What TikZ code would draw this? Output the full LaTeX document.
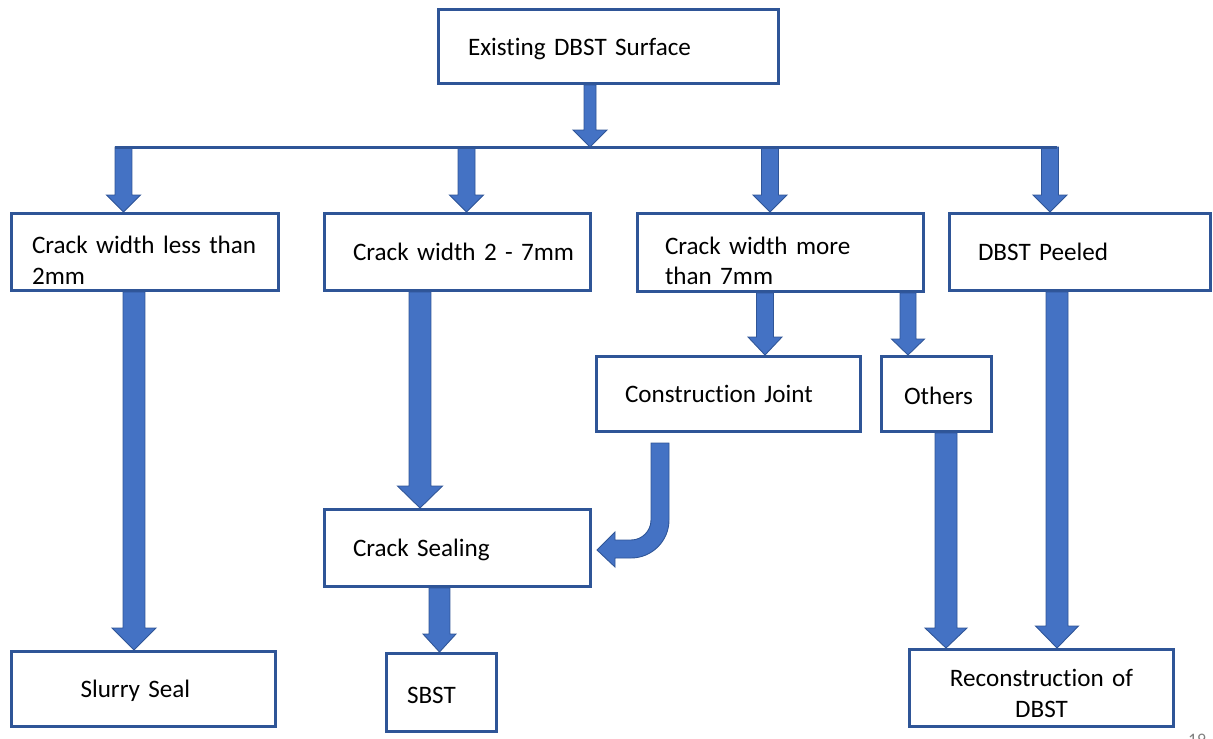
\documentclass[tikz,border=0pt]{standalone}
\usepackage{fontspec}
\setmainfont{Carlito}[Ligatures=NoCommon]
\usetikzlibrary{calc}

\definecolor{boxline}{HTML}{2F5597}
\definecolor{arrowblue}{HTML}{4472C4}

\tikzset{
  box/.style={draw=boxline, line width=1.7pt, fill=white, inner sep=0pt,
    align=left, font=\fontsize{14.3}{17.5}\selectfont,
    text height=0.34cm, text depth=0pt},
  twoline/.style={text height=0.06cm},
  arrowfill/.style={fill=arrowblue, draw=boxline, line width=0.5pt},
}

% block arrow: #1 shaft, #2 head width, #3 head length (px), #4 x (px), #5 from, #6 to
\newcommand\blockarrow[6]{%
  \filldraw[arrowfill] let \p3=(#4,0), \p1=(#5), \p2=(#6) in
    (\x3-#1*0.01cm,\y1) -- (\x3-#1*0.01cm,\y2+#3*0.02cm)
    -- (\x3-#2*0.01cm,\y2+#3*0.02cm) -- (\x3,\y2)
    -- (\x3+#2*0.01cm,\y2+#3*0.02cm) -- (\x3+#1*0.01cm,\y2+#3*0.02cm)
    -- (\x3+#1*0.01cm,\y1) -- cycle;}

\begin{document}
\begin{tikzpicture}[x=0.02cm, y=-0.02cm]
    \useasboundingbox (0,0) rectangle (1213,738);
    \clip (0,0) rectangle (1213,738);

    % boxes
    \node[box, minimum width=6.80cm, minimum height=1.48cm, text width=5.62cm] (top) at (608.5,46.5) {Existing DBST Surface};
    \node[box, twoline, minimum width=5.34cm, minimum height=1.54cm, text width=4.52cm] (less2) at (145,252) {\mbox{Crack width less than}\\2mm};
    \node[box, minimum width=5.32cm, minimum height=1.54cm, text width=4.18cm] (w27) at (457.5,252) {\mbox{Crack width 2 - 7mm}};
    \node[box, twoline, minimum width=5.72cm, minimum height=1.56cm, text width=4.62cm] (more7) at (780.5,252.5) {Crack width more\\than 7mm};
    \node[box, minimum width=5.22cm, minimum height=1.54cm, text width=4.08cm] (peeled) at (1080,252) {DBST Peeled};
    \node[box, minimum width=5.28cm, minimum height=1.50cm, text width=4.14cm] (cj) at (728.5,394) {Construction Joint};
    \node[box, minimum width=2.20cm, minimum height=1.50cm, text width=1.30cm, text height=0.42cm] (others) at (936.5,394) {Others};
    \node[box, minimum width=5.32cm, minimum height=1.54cm, text width=4.18cm] (sealing) at (457.5,548) {Crack Sealing};
    \node[box, minimum width=5.28cm, minimum height=1.50cm, text width=2.52cm] (slurry) at (143.5,689) {Slurry Seal};
    \node[box, minimum width=2.20cm, minimum height=1.56cm, text width=1.38cm, text height=0.44cm] (sbst) at (441.5,692.5) {SBST};
    \node[box, minimum width=5.28cm, minimum height=1.54cm, text width=4.50cm, align=center,
          text height=0pt, text depth=0.06cm] (recon) at (1041.5,688) {Reconstruction of\\DBST};

    % branch bar
    \coordinate (barL) at (115,147);
    \coordinate (barR) at (1057,147);
    \blockarrow{12}{34}{17}{590}{top.south}{barL}
    \foreach \bx/\target in {123.5/less2, 466.5/w27, 770/more7, 1050/peeled}
        \blockarrow{17}{34}{17}{\bx}{barL}{\target.north};
    \draw[boxline, line width=1.7pt] (barL) -- (barR);

    % arrows between boxes
    \blockarrow{22}{44}{22}{134}{less2.south}{slurry.north}
    \blockarrow{22}{45}{22}{420}{w27.south}{sealing.north}
    \blockarrow{17}{34}{18}{765}{more7.south}{cj.north}
    \blockarrow{16}{33}{16}{908}{more7.south}{others.north}
    \blockarrow{22}{42}{20}{946}{others.south}{recon.north}
    \blockarrow{22}{43}{22}{1057}{peeled.south}{recon.north}
    \blockarrow{21}{33}{18}{439.5}{sealing.south}{sbst.north}

    % bent arrow from construction joint to crack sealing
    \filldraw[arrowfill] (651,443) -- (651,520) arc[start angle=0, end angle=90, radius=20]
        -- (615,540) -- (615,532) -- (597,550) -- (615,567) -- (615,558) -- (631,558)
        arc[start angle=90, end angle=0, radius=38] -- (669,443) -- cycle;

    \node[font=\fontsize{10}{12}\selectfont, text=gray, anchor=base] (pagenum) at (1197,745) {19};
\end{tikzpicture}
\end{document}
